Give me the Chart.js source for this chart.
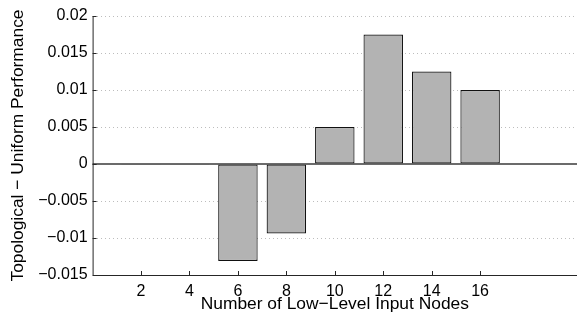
<!DOCTYPE html>
<html lang="en">
<head>
  <meta charset="UTF-8" />
  <title>Topological - Uniform Performance</title>
  <script src="https://cdn.jsdelivr.net/npm/chart.js"></script>
  <style>
    body { margin: 0; background-color: #ffffff; }
  </style>
</head>
<body>

<canvas id="diffChart" width="577" height="320"></canvas>

<script>
  // values
  const nodeCounts = [2, 4, 6, 8, 10, 12, 14, 16];
  const perfDiff = [-0.0001, -0.0001, -0.0131, -0.0094, 0.005, 0.0175, 0.0125, 0.01];
  const yTicks = [-0.015, -0.01, -0.005, 0, 0.005, 0.01, 0.015, 0.02];

  const MINUS = '\u2212';
  const fmt = v => {
    const s = String(Number(v.toFixed(3)));
    return s.replace('-', MINUS);
  };

  // matlab style axes: inward ticks, left + bottom lines, baseline at zero
  const matlabAxes = {
    id: 'matlabAxes',
    afterDatasetsDraw(chart) {
      const { ctx, chartArea, scales } = chart;
      const x = scales.x, y = scales.y;
      ctx.save();
      // baseline
      const y0 = y.getPixelForValue(0);
      ctx.strokeStyle = '#3a3a3a';
      ctx.lineWidth = 1.5;
      ctx.beginPath();
      ctx.moveTo(chartArea.left, y0);
      ctx.lineTo(chartArea.right, y0);
      ctx.stroke();
      // axes
      ctx.strokeStyle = '#262626';
      ctx.lineWidth = 1;
      ctx.beginPath();
      ctx.moveTo(chartArea.left + 0.5, chartArea.top);
      ctx.lineTo(chartArea.left + 0.5, chartArea.bottom + 0.5);
      ctx.lineTo(chartArea.right, chartArea.bottom + 0.5);
      ctx.stroke();
      // inward ticks
      ctx.beginPath();
      nodeCounts.forEach(v => {
        const px = Math.round(x.getPixelForValue(v)) + 0.5;
        ctx.moveTo(px, chartArea.bottom);
        ctx.lineTo(px, chartArea.bottom - 4);
      });
      yTicks.forEach(v => {
        const py = Math.round(y.getPixelForValue(v)) + 0.5;
        ctx.moveTo(chartArea.left, py);
        ctx.lineTo(chartArea.left + 4, py);
      });
      ctx.stroke();
      ctx.restore();
    }
  };

  new Chart(document.getElementById('diffChart'), {
    type: 'bar',
    data: {
      datasets: [{
        data: nodeCounts.map((n, i) => ({ x: n, y: perfDiff[i] })),
        backgroundColor: '#b3b3b3',
        borderColor: '#111111',
        borderWidth: 1.2,
        borderSkipped: false,
        categoryPercentage: 1,
        barPercentage: 0.815
      }]
    },
    options: {
      responsive: false,
      animation: false,
      layout: { padding: { left: 0, top: 16, right: -7, bottom: 0 } },
      plugins: {
        legend: { display: false },
        tooltip: { enabled: false }
      },
      scales: {
        x: {
          type: 'linear',
          min: 0,
          max: 20,
          offset: false,
          grid: { display: false, drawTicks: false, offset: false },
          border: { display: false },
          afterBuildTicks: s => { s.ticks = nodeCounts.map(v => ({ value: v })); },
          afterFit: s => { s.height = 45; },
          ticks: {
            padding: 7,
            maxRotation: 0,
            autoSkip: false,
            color: '#000',
            font: { family: 'Liberation Sans', size: 16 },
            callback: v => String(v)
          },
          title: {
            display: true,
            text: 'Number of Low' + MINUS + 'Level Input Nodes',
            color: '#000',
            font: { family: 'Liberation Sans', size: 17.4, lineHeight: 1.2 },
            padding: { top: 0, bottom: 5 }
          }
        },
        y: {
          min: -0.015,
          max: 0.02,
          afterBuildTicks: s => { s.ticks = yTicks.map(v => ({ value: v })); },
          afterFit: s => { s.width = 92.6; },
          grid: {
            drawTicks: false,
            color: c => (c.tick && c.tick.value === 0) ? 'rgba(0,0,0,0)' : '#bdbdbd',
            lineWidth: 1
          },
          border: { display: false, dash: [1, 3] },
          ticks: {
            padding: 5,
            color: '#000',
            font: { family: 'Liberation Sans', size: 16 },
            callback: v => fmt(v)
          },
          title: {
            display: true,
            text: 'Topological ' + MINUS + ' Uniform Performance',
            color: '#000',
            font: { family: 'Liberation Sans', size: 17.4, lineHeight: 1.2 },
            padding: { top: 8, bottom: 0 }
          }
        }
      }
    },
    plugins: [matlabAxes]
  });
</script>
</body>
</html>
